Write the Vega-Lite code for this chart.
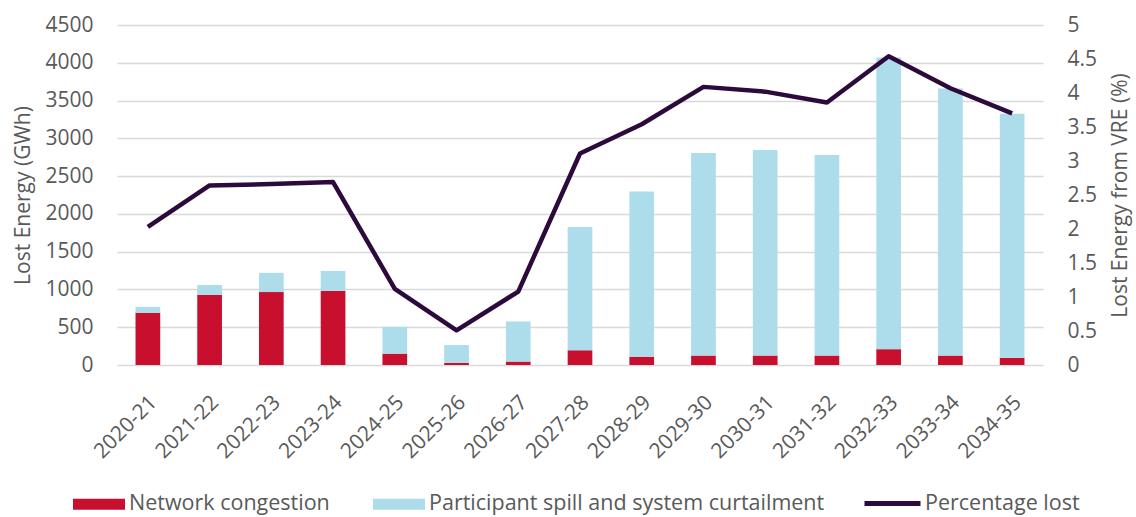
{
  "$schema": "https://vega.github.io/schema/vega-lite/v6.json",
  "width": 926,
  "height": 340,
  "autosize": {"type": "none"},
  "padding": {"left": 117, "top": 25, "right": 93, "bottom": 152},
  "config": {
    "view": {"stroke": null},
    "font": "Open Sans",
    "axis": {"labelColor": "#595959", "titleColor": "#595959", "labelFontSize": 21, "titleFontSize": 21, "titleFontWeight": "normal", "ticks": false, "domain": false},
    "legend": {"labelColor": "#595959", "labelFontSize": 21.5, "padding": 0, "labelLimit": 600}
  },
  "data": {
    "values": [
      {"year": "2020-21", "congestion": 690, "spill": 80, "pct": 2.03},
      {"year": "2021-22", "congestion": 930, "spill": 130, "pct": 2.64},
      {"year": "2022-23", "congestion": 965, "spill": 255, "pct": 2.66},
      {"year": "2023-24", "congestion": 980, "spill": 265, "pct": 2.69},
      {"year": "2024-25", "congestion": 150, "spill": 355, "pct": 1.12},
      {"year": "2025-26", "congestion": 28, "spill": 235, "pct": 0.51},
      {"year": "2026-27", "congestion": 45, "spill": 530, "pct": 1.08},
      {"year": "2027-28", "congestion": 195, "spill": 1630, "pct": 3.11},
      {"year": "2028-29", "congestion": 110, "spill": 2185, "pct": 3.54},
      {"year": "2029-30", "congestion": 125, "spill": 2680, "pct": 4.09},
      {"year": "2030-31", "congestion": 125, "spill": 2720, "pct": 4.02},
      {"year": "2031-32", "congestion": 125, "spill": 2655, "pct": 3.86},
      {"year": "2032-33", "congestion": 210, "spill": 3860, "pct": 4.54},
      {"year": "2033-34", "congestion": 125, "spill": 3535, "pct": 4.07},
      {"year": "2034-35", "congestion": 95, "spill": 3230, "pct": 3.70}
    ]
  },
  "layer": [
    {
      "transform": [{"fold": ["congestion", "spill"], "as": ["series", "value"]}],
      "mark": {"type": "bar"},
      "encoding": {
        "x": {
          "field": "year", "type": "ordinal",
          "scale": {"paddingInner": 0.6, "paddingOuter": 0.3},
          "axis": {"title": null, "labelAngle": -45, "labelAlign": "right", "labelBaseline": "middle", "labelPadding": 34, "labelOffset": 6, "grid": false}
        },
        "y": {
          "field": "value", "type": "quantitative", "stack": "zero",
          "scale": {"domain": [0, 4500], "nice": false},
          "axis": {"title": "Lost Energy (GWh)", "values": [0, 500, 1000, 1500, 2000, 2500, 3000, 3500, 4000, 4500], "format": "d", "grid": true, "gridColor": "#D9D9D9", "gridWidth": 1.5, "labelPadding": 24, "titlePadding": 11}
        },
        "color": {
          "field": "series", "type": "nominal",
          "scale": {"domain": ["congestion", "spill"], "range": ["#C8102E", "#ADDCEB"]},
          "legend": {
            "title": null, "orient": "none", "legendX": -44, "legendY": 453, "direction": "horizontal",
            "labelExpr": "datum.value === 'congestion' ? 'Network congestion' : 'Participant spill and system curtailment'",
            "symbolType": "M-1,-0.21h2v0.42h-2z", "symbolSize": 2704, "symbolStrokeWidth": 0, "labelOffset": 4, "columnPadding": 43
          }
        },
        "order": {"field": "series", "sort": "ascending"}
      }
    },
    {
      "mark": {"type": "line", "strokeWidth": 4.5, "strokeJoin": "round"},
      "encoding": {
        "x": {"field": "year", "type": "ordinal"},
        "y": {
          "field": "pct", "type": "quantitative",
          "scale": {"domain": [0, 5], "nice": false},
          "axis": {"orient": "right", "title": "Lost Energy from VRE (%)", "titleAngle": -90, "values": [0, 0.5, 1, 1.5, 2, 2.5, 3, 3.5, 4, 4.5, 5], "format": ".1~f", "grid": false, "labelPadding": 24, "titlePadding": 34}
        },
        "stroke": {
          "datum": "Percentage lost",
          "scale": {"range": ["#2D0A3C"]},
          "legend": {"title": null, "orient": "none", "legendX": 745, "legendY": 448, "symbolType": "stroke", "symbolSize": 3136, "symbolStrokeWidth": 5, "labelOffset": 2}
        }
      }
    }
  ],
  "resolve": {"scale": {"y": "independent"}}
}
